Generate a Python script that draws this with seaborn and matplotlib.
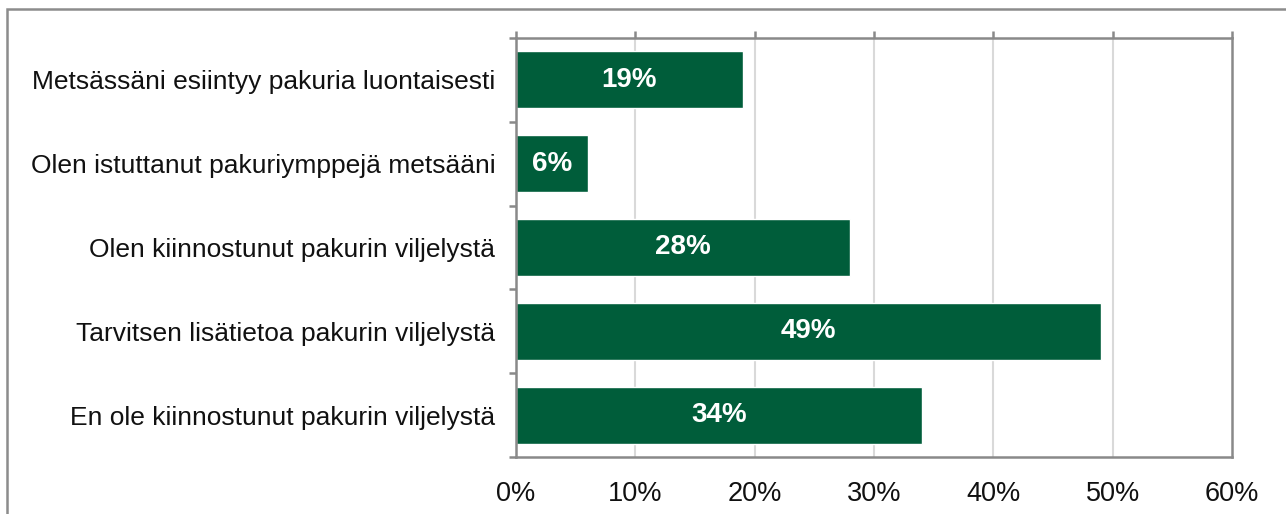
import pandas as pd
import seaborn as sns
import matplotlib.pyplot as plt
from matplotlib.patches import Rectangle
from matplotlib.ticker import FixedLocator

# Data
kategoriat = [
    "Metsässäni esiintyy pakuria luontaisesti",
    "Olen istuttanut pakuriymppejä metsääni",
    "Olen kiinnostunut pakurin viljelystä",
    "Tarvitsen lisätietoa pakurin viljelystä",
    "En ole kiinnostunut pakurin viljelystä",
]
osuudet = [19, 6, 28, 49, 34]
x_ticks = [0, 10, 20, 30, 40, 50, 60]

df = pd.DataFrame({"kategoria": kategoriat, "osuus": osuudet})

sns.set_theme(style="white")
plt.rcParams["font.family"] = ["Liberation Sans", "DejaVu Sans"]

W, H = 1286, 514
fig = plt.figure(figsize=(W / 100, H / 100), dpi=100)
fig.patch.set_facecolor("white")
ax = fig.add_axes([516 / W, 1 - 457 / H, (1232 - 516) / W, (457 - 38) / H])

vihrea = "#005d3a"
sns.barplot(data=df, x="osuus", y="kategoria", orient="h", color=vihrea,
            saturation=1, width=0.68, ax=ax)

# Bar labels
ax.bar_label(ax.containers[0], labels=[f"{v}%" for v in osuudet],
             label_type="center", color="white", fontweight="bold", fontsize=20)

ax.set_xlim(0, 60)
ax.set_ylim(4.5, -0.5)
ax.set_xticks(x_ticks)
ax.set_xticklabels([f"{t}%" for t in x_ticks], fontsize=19.5, color="#111111")
ax.set_xlabel("")
ax.set_ylabel("")

# Gridlines
for t in x_ticks[1:-1]:
    ax.axvline(t, color="#d9d9d9", lw=1.5, zorder=0)

# Spines
for s in ax.spines.values():
    s.set_color("#898989")
    s.set_linewidth(1.8)
    s.set_visible(True)

# x ticks: marks on top, labels at bottom
ax.tick_params(axis="x", bottom=False, top=True, labelbottom=True, labeltop=False,
               direction="out", length=5, width=1.8, color="#898989", pad=12)

# y ticks: marks at category boundaries
ax.tick_params(axis="y", which="major", length=0, pad=15, labelsize=19, labelcolor="#111111")
ax.yaxis.set_minor_locator(FixedLocator([i - 0.5 for i in range(len(kategoriat) + 1)]))
ax.tick_params(axis="y", which="minor", left=True, length=5, width=1.8,
               color="#898989", direction="out")

# Outer frame (cropped on right and bottom)
fig.patches.append(Rectangle((7 / W, -0.1), 1.2, 1.1 - 9 / H,
                             transform=fig.transFigure, fill=False,
                             edgecolor="#8c8c8c", lw=1.8, zorder=-1))

fig.savefig("out.png", dpi=100)
